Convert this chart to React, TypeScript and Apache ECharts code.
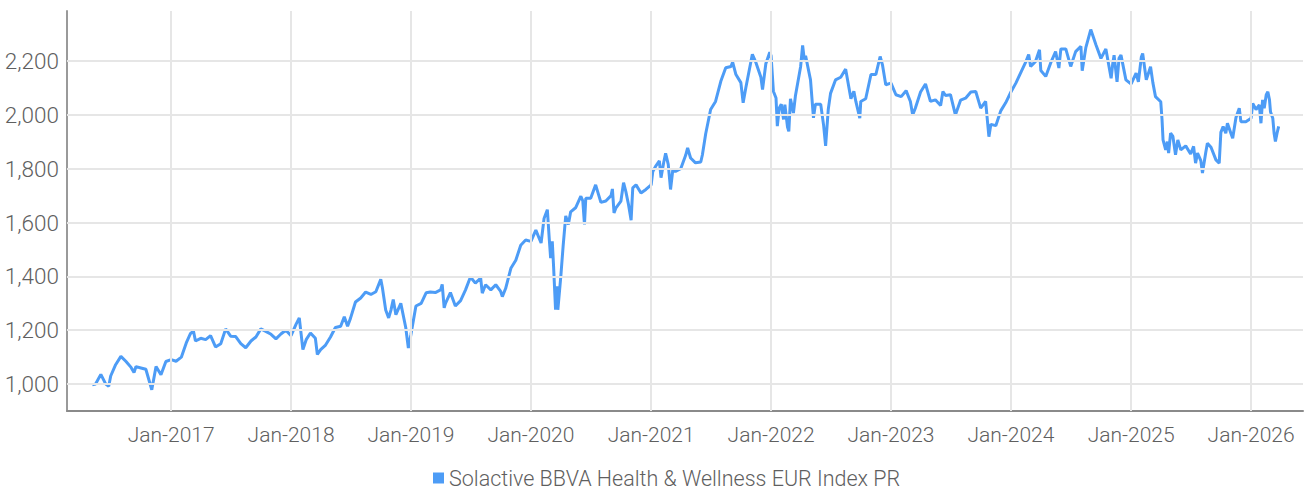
import React, { useEffect, useRef } from 'react';
import * as echarts from 'echarts';

const seriesName = 'Solactive BBVA Health & Wellness EUR Index PR';

const dates: string[] = [
  '2016-05-06','2016-05-16','2016-06-01','2016-06-16','2016-06-25','2016-07-01','2016-07-16','2016-08-01','2016-08-16','2016-09-01',
  '2016-09-10','2016-09-16','2016-10-01','2016-10-16','2016-11-03','2016-11-16','2016-12-01','2016-12-16','2017-01-01','2017-01-16',
  '2017-02-01','2017-02-16','2017-03-01','2017-03-10','2017-03-16','2017-04-01','2017-04-16','2017-05-01','2017-05-16','2017-06-01',
  '2017-06-16','2017-07-01','2017-07-16','2017-08-01','2017-08-16','2017-09-01','2017-09-16','2017-10-01','2017-10-16','2017-11-01',
  '2017-11-16','2017-12-01','2017-12-16','2018-01-01','2018-01-16','2018-01-26','2018-02-06','2018-02-16','2018-03-01','2018-03-16',
  '2018-03-22','2018-04-01','2018-04-16','2018-05-01','2018-05-16','2018-06-01','2018-06-12','2018-06-22','2018-07-01','2018-07-16',
  '2018-08-01','2018-08-16','2018-09-01','2018-09-16','2018-10-01','2018-10-06','2018-10-16','2018-10-25','2018-11-01','2018-11-08',
  '2018-11-16','2018-12-01','2018-12-16','2018-12-24','2019-01-01','2019-01-16','2019-02-01','2019-02-16','2019-03-01','2019-03-16',
  '2019-04-01','2019-04-06','2019-04-12','2019-04-16','2019-05-01','2019-05-16','2019-06-01','2019-06-16','2019-07-01','2019-07-16',
  '2019-08-01','2019-08-06','2019-08-16','2019-09-01','2019-09-16','2019-10-01','2019-10-06','2019-10-16','2019-11-01','2019-11-16',
  '2019-12-01','2019-12-16','2020-01-01','2020-01-16','2020-02-01','2020-02-10','2020-02-20','2020-02-26','2020-03-01','2020-03-06',
  '2020-03-10','2020-03-16','2020-03-20','2020-03-23','2020-04-01','2020-04-08','2020-04-16','2020-04-24','2020-05-01','2020-05-16',
  '2020-06-01','2020-06-07','2020-06-12','2020-06-16','2020-07-01','2020-07-16','2020-08-01','2020-08-16','2020-09-01','2020-09-05',
  '2020-09-10','2020-09-16','2020-10-01','2020-10-09','2020-10-16','2020-10-24','2020-11-01','2020-11-06','2020-11-16','2020-12-01',
  '2020-12-16','2021-01-01','2021-01-06','2021-01-16','2021-01-26','2021-01-31','2021-02-08','2021-02-14','2021-02-22','2021-03-01',
  '2021-03-08','2021-03-16','2021-04-01','2021-04-16','2021-04-22','2021-05-01','2021-05-16','2021-06-01','2021-06-06','2021-06-16',
  '2021-07-01','2021-07-16','2021-08-01','2021-08-16','2021-09-01','2021-09-06','2021-09-16','2021-10-01','2021-10-08','2021-10-16',
  '2021-11-01','2021-11-05','2021-11-16','2021-12-01','2021-12-06','2021-12-16','2021-12-28','2022-01-01','2022-01-08','2022-01-16',
  '2022-01-20','2022-01-26','2022-02-01','2022-02-08','2022-02-12','2022-02-20','2022-02-24','2022-03-01','2022-03-10','2022-03-16',
  '2022-04-01','2022-04-07','2022-04-12','2022-04-16','2022-05-01','2022-05-10','2022-05-16','2022-06-01','2022-06-10','2022-06-16',
  '2022-06-24','2022-07-01','2022-07-16','2022-08-01','2022-08-16','2022-09-01','2022-09-10','2022-09-16','2022-09-28','2022-10-01',
  '2022-10-16','2022-11-01','2022-11-16','2022-11-29','2022-12-06','2022-12-16','2023-01-01','2023-01-16','2023-02-01','2023-02-16',
  '2023-03-01','2023-03-08','2023-03-16','2023-04-01','2023-04-16','2023-05-01','2023-05-16','2023-06-01','2023-06-08','2023-06-16',
  '2023-07-01','2023-07-16','2023-08-01','2023-08-16','2023-09-01','2023-09-16','2023-10-01','2023-10-16','2023-10-26','2023-11-01',
  '2023-11-16','2023-12-01','2023-12-16','2024-01-01','2024-01-16','2024-02-01','2024-02-16','2024-02-24','2024-03-01','2024-03-16',
  '2024-03-28','2024-04-01','2024-04-16','2024-05-01','2024-05-16','2024-05-26','2024-06-01','2024-06-16','2024-07-01','2024-07-16',
  '2024-08-01','2024-08-05','2024-08-16','2024-08-31','2024-09-16','2024-10-01','2024-10-16','2024-11-01','2024-11-06','2024-11-10',
  '2024-11-19','2024-11-25','2024-12-01','2024-12-16','2025-01-01','2025-01-16','2025-01-23','2025-02-01','2025-02-05','2025-02-16',
  '2025-03-01','2025-03-08','2025-03-16','2025-04-01','2025-04-05','2025-04-08','2025-04-16','2025-04-21','2025-04-25','2025-05-01',
  '2025-05-08','2025-05-16','2025-05-23','2025-06-01','2025-06-16','2025-07-01','2025-07-10','2025-07-16','2025-07-22','2025-08-01',
  '2025-08-06','2025-08-16','2025-08-21','2025-09-01','2025-09-16','2025-09-26','2025-10-01','2025-10-08','2025-10-16','2025-10-21',
  '2025-11-01','2025-11-06','2025-11-16','2025-11-26','2025-12-01','2025-12-16','2026-01-01','2026-01-06','2026-01-16','2026-01-26',
  '2026-01-31','2026-02-05','2026-02-10','2026-02-16','2026-02-21','2026-02-26','2026-03-01','2026-03-08','2026-03-12','2026-03-16',
  '2026-03-21','2026-03-26'
];

const values: number[] = [
  997,1000,1036,1000,992,1030,1072,1103,1085,1062,
  1043,1065,1060,1055,979,1065,1035,1084,1091,1085,
  1100,1153,1188,1196,1160,1170,1165,1180,1138,1150,
  1205,1178,1177,1150,1135,1160,1175,1205,1196,1185,
  1168,1186,1200,1180,1222,1246,1128,1165,1190,1170,
  1110,1128,1145,1175,1210,1215,1250,1215,1245,1305,
  1320,1342,1333,1343,1389,1358,1275,1246,1275,1314,
  1258,1300,1210,1134,1185,1290,1300,1339,1342,1340,
  1350,1370,1283,1300,1340,1290,1310,1350,1398,1375,
  1394,1338,1369,1350,1369,1344,1325,1355,1430,1460,
  1516,1535,1530,1572,1524,1615,1648,1537,1468,1530,
  1437,1276,1363,1276,1400,1512,1625,1593,1640,1655,
  1698,1680,1593,1690,1690,1740,1675,1680,1700,1725,
  1636,1655,1680,1748,1715,1667,1609,1729,1740,1710,
  1723,1740,1790,1812,1829,1767,1822,1857,1816,1723,
  1797,1790,1800,1850,1877,1840,1822,1825,1852,1930,
  2020,2050,2125,2175,2180,2196,2150,2120,2045,2100,
  2200,2225,2194,2140,2094,2190,2233,2220,2088,2063,
  1958,2026,2040,1983,2038,1955,1939,2060,2007,2070,
  2180,2258,2206,2220,2130,1989,2040,2040,1960,1885,
  2020,2080,2130,2140,2170,2060,2088,2050,1988,2050,
  2060,2150,2150,2217,2186,2112,2118,2075,2068,2090,
  2050,2000,2025,2085,2115,2050,2056,2035,2087,2072,
  2075,2000,2055,2062,2085,2087,2025,2050,1919,1965,
  1960,2015,2045,2085,2118,2160,2199,2224,2180,2199,
  2242,2165,2143,2193,2235,2174,2245,2245,2180,2235,
  2255,2164,2250,2317,2260,2210,2245,2136,2191,2222,
  2123,2210,2222,2130,2115,2155,2123,2215,2228,2130,
  2179,2120,2068,2049,1981,1907,1870,1901,1858,1932,
  1920,1852,1907,1870,1885,1855,1883,1821,1858,1830,
  1784,1860,1895,1880,1833,1821,1935,1957,1932,1969,
  1930,1913,1990,2025,1975,1975,1988,2043,2020,2037,
  1969,2056,2025,2074,2086,2056,2012,1988,1932,1901,
  1932,1957
];

const yTicks: number[] = [1000, 1200, 1400, 1600, 1800, 2000, 2200];
const yearTicks: string[] = [
  '2017-01-01','2018-01-01','2019-01-01','2020-01-01','2021-01-01',
  '2022-01-01','2023-01-01','2024-01-01','2025-01-01','2026-01-01'
];
const monthNames = ['Jan','Feb','Mar','Apr','May','Jun','Jul','Aug','Sep','Oct','Nov','Dec'];

const FONT = 'Roboto';
const TEXT = '#5f5f5f';
const LINE = '#4d9cf6';
const GRID = '#e6e6e6';

export default function App() {
  const ref = useRef<HTMLDivElement>(null);
  useEffect(() => {
    document.body.style.margin = '0';
    if (!ref.current) return;
    const chart = echarts.init(ref.current, null, { renderer: 'svg' });
    const data = dates.map((d, i) => [d, values[i]]);
    chart.setOption({
      animation: false,
      textStyle: { fontFamily: FONT },
      grid: { left: 67, right: 1, top: 11, bottom: 82, containLabel: false },
      legend: {
        data: [{ name: seriesName, icon: 'rect' }],
        left: 428,
        top: 462,
        padding: 5,
        itemWidth: 11,
        itemHeight: 11,
        textStyle: { color: TEXT, fontSize: 21.5, fontFamily: FONT, fontWeight: 300 },
        selectedMode: false,
      },
      xAxis: {
        type: 'time',
        min: '2016-02-19',
        max: '2026-06-08',
        minInterval: 365 * 24 * 3600 * 1000,
        maxInterval: 366 * 24 * 3600 * 1000,
        axisLine: { show: true, lineStyle: { color: '#8a8a8a', width: 2 } },
        axisTick: { show: false },
        splitLine: { show: false },
        axisLabel: {
          color: TEXT,
          fontSize: 21,
          fontFamily: FONT,
          fontWeight: 300,
          margin: 13,
          formatter: (v: number) => {
            const d = new Date(v);
            if (d.getMonth() !== 0 || d.getDate() !== 1) return '';
            return monthNames[d.getMonth()] + '-' + d.getFullYear();
          },
        },
      },
      yAxis: {
        type: 'value',
        min: 900,
        max: 2386,
        axisLine: { show: true, lineStyle: { color: '#9a9a9a', width: 2 } },
        axisTick: { show: false },
        splitLine: { show: false },
        axisLabel: {
          customValues: yTicks,
          color: TEXT,
          fontSize: 22.5,
          fontFamily: FONT,
          fontWeight: 300,
          margin: 8,
          formatter: (v: number) => v.toLocaleString('en-US'),
        },
      },
      series: [
        {
          name: 'grid',
          type: 'line',
          data: [],
          z: 1,
          silent: true,
          markLine: {
            silent: true,
            symbol: ['none', 'none'],
            label: { show: false },
            lineStyle: { color: GRID, width: 2, type: 'solid' },
            emphasis: { disabled: true },
            data: [
              ...yTicks.map((v) => ({ yAxis: v })),
              ...yearTicks.map((d) => ({ xAxis: d })),
            ],
          },
        },
        {
          name: seriesName,
          type: 'line',
          data,
          z: 3,
          showSymbol: false,
          symbol: 'none',
          lineStyle: { color: LINE, width: 3 },
          itemStyle: { color: LINE },
        },
      ],
    });
    return () => chart.dispose();
  }, []);
  return (
    <div
      ref={ref}
      style={{ position: 'absolute', left: 0, top: 0, width: 1304, height: 493 }}
    />
  );
}
